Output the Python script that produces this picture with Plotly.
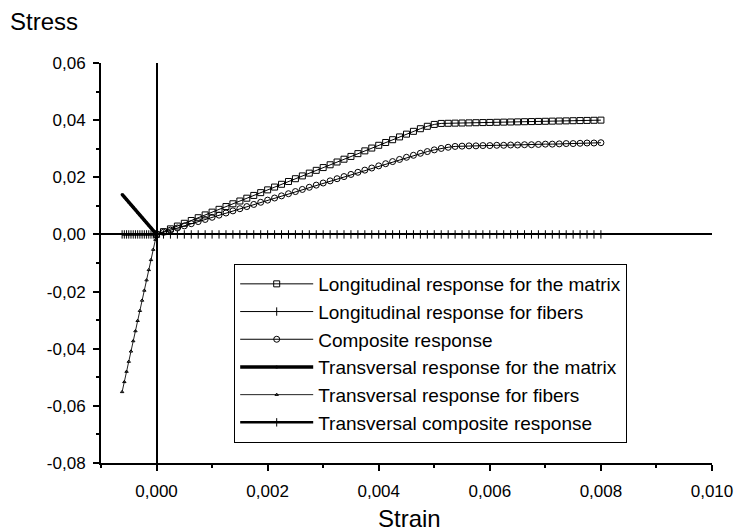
import plotly.graph_objects as go

# ---------------- data ----------------
strain_long = [0.0, 0.000125, 0.00025, 0.000375, 0.0005, 0.000625, 0.00075, 0.000875,
               0.001, 0.001125, 0.00125, 0.001375, 0.0015, 0.001625, 0.00175, 0.001875,
               0.002, 0.002125, 0.00225, 0.002375, 0.0025, 0.002625, 0.00275, 0.002875,
               0.003, 0.003125, 0.00325, 0.003375, 0.0035, 0.003625, 0.00375, 0.003875,
               0.004, 0.004125, 0.00425, 0.004375, 0.0045, 0.004625, 0.00475, 0.004875,
               0.005, 0.005125, 0.00525, 0.005375, 0.0055, 0.005625, 0.00575, 0.005875,
               0.006, 0.006125, 0.00625, 0.006375, 0.0065, 0.006625, 0.00675, 0.006875,
               0.007, 0.007125, 0.00725, 0.007375, 0.0075, 0.007625, 0.00775, 0.007875,
               0.008]

stress_long_matrix = [0.0, 0.00098, 0.00195, 0.00293, 0.0039, 0.00488, 0.00585, 0.00683,
                      0.0078, 0.00878, 0.00975, 0.01073, 0.0117, 0.01268, 0.01365, 0.01463,
                      0.0156, 0.01658, 0.01755, 0.01853, 0.0195, 0.02048, 0.02145, 0.02243,
                      0.0234, 0.02438, 0.02535, 0.02633, 0.0273, 0.02828, 0.02925, 0.03023,
                      0.0312, 0.03218, 0.03315, 0.03413, 0.0351, 0.03608, 0.037, 0.03785,
                      0.0385, 0.03885, 0.0389, 0.03895, 0.039, 0.03905, 0.0391, 0.03915,
                      0.0392, 0.03925, 0.0393, 0.03935, 0.0394, 0.03945, 0.0395, 0.03955,
                      0.0396, 0.03965, 0.0397, 0.03975, 0.0398, 0.03985, 0.0399, 0.03995,
                      0.0400]

stress_long_fibers = [0.0] * 65

stress_composite = [0.0, 0.00075, 0.0015, 0.00225, 0.003, 0.00375, 0.0045, 0.00525,
                    0.006, 0.00675, 0.0075, 0.00825, 0.009, 0.00975, 0.0105, 0.01125,
                    0.012, 0.01275, 0.0135, 0.01425, 0.015, 0.01575, 0.0165, 0.01725,
                    0.018, 0.01875, 0.0195, 0.02025, 0.021, 0.02175, 0.0225, 0.02325,
                    0.024, 0.02475, 0.0255, 0.02625, 0.027, 0.0277, 0.0284, 0.029,
                    0.0296, 0.0301, 0.0305, 0.0308, 0.0309, 0.031, 0.031, 0.0311,
                    0.0311, 0.0312, 0.0312, 0.0313, 0.0313, 0.0314, 0.0314, 0.0315,
                    0.0316, 0.0316, 0.0317, 0.0318, 0.0318, 0.0319, 0.032, 0.032,
                    0.0321]

strain_trans = [-0.00062, -0.00058, -0.00054, -0.0005, -0.00046, -0.00042, -0.00038, -0.00034,
                -0.0003, -0.00026, -0.00022, -0.00018, -0.00014, -0.0001, -0.00006, -0.00002, 0.0]

stress_trans_matrix = [0.014, 0.0131, 0.0122, 0.0113, 0.0104, 0.0095, 0.0086, 0.0077,
                       0.0068, 0.0059, 0.005, 0.0041, 0.0032, 0.0023, 0.0014, 0.0005, 0.0]

stress_trans_fibers = [-0.0551, -0.0516, -0.048, -0.0445, -0.0409, -0.0373, -0.0338, -0.0302,
                       -0.0267, -0.0231, -0.0196, -0.016, -0.0124, -0.0089, -0.0053, -0.0018, 0.0]

stress_trans_composite = [0.0] * 17

series_names = ["Longitudinal response for the matrix",
                "Longitudinal response for fibers",
                "Composite response",
                "Transversal response for the matrix",
                "Transversal response for fibers",
                "Transversal composite response"]

x_tickvals = [0.0, 0.002, 0.004, 0.006, 0.008, 0.010]
x_ticktext = ["0,000", "0,002", "0,004", "0,006", "0,008", "0,010"]
y_tickvals = [-0.08, -0.06, -0.04, -0.02, 0.0, 0.02, 0.04, 0.06]
y_ticktext = ["-0,08", "-0,06", "-0,04", "-0,02", "0,00", "0,02", "0,04", "0,06"]

# ---------------- figure ----------------
FONT = "Liberation Sans, Arial, sans-serif"
fig = go.Figure()

fig.add_trace(go.Scatter(x=strain_long, y=stress_long_matrix, name=series_names[0],
                         mode="lines+markers", line=dict(color="black", width=1),
                         marker=dict(symbol="square-open", size=6, color="black",
                                     line=dict(width=1, color="black"))))
fig.add_trace(go.Scatter(x=strain_long, y=stress_long_fibers, name=series_names[1],
                         mode="lines+markers", line=dict(color="black", width=1),
                         marker=dict(symbol="line-ns", size=6, color="black",
                                     line=dict(width=1, color="black"))))
fig.add_trace(go.Scatter(x=strain_long, y=stress_composite, name=series_names[2],
                         mode="lines+markers", line=dict(color="black", width=1),
                         marker=dict(symbol="circle-open", size=6, color="black",
                                     line=dict(width=1, color="black"))))
fig.add_trace(go.Scatter(x=strain_trans, y=stress_trans_matrix, name=series_names[3],
                         mode="lines+markers", line=dict(color="black", width=3.5),
                         marker=dict(symbol="circle", size=3, color="black")))
fig.add_trace(go.Scatter(x=strain_trans, y=stress_trans_fibers, name=series_names[4],
                         mode="lines+markers", line=dict(color="#222222", width=1),
                         marker=dict(symbol="triangle-up-open", size=3, color="black",
                                     line=dict(width=1, color="black"))))
fig.add_trace(go.Scatter(x=strain_trans, y=stress_trans_composite, name=series_names[5],
                         mode="lines+markers", line=dict(color="black", width=2.5),
                         marker=dict(symbol="line-ns", size=6, color="black",
                                     line=dict(width=1, color="black"))))

axis_common = dict(showline=True, linecolor="black", linewidth=2, ticks="outside",
                   ticklen=6, tickwidth=2, tickcolor="black", showgrid=False,
                   zeroline=True, zerolinecolor="black", zerolinewidth=1.5,
                   tickfont=dict(family=FONT, size=17, color="black"))

fig.update_xaxes(range=[-0.001, 0.010], tickmode="array", tickvals=x_tickvals,
                 ticktext=x_ticktext, ticklabelstandoff=6,
                 minor=dict(ticks="outside", ticklen=3, tickwidth=1.5, tickcolor="black",
                            tickmode="linear", tick0=0, dtick=0.001),
                 **axis_common)
fig.update_yaxes(range=[-0.08, 0.06], tickmode="array", tickvals=y_tickvals,
                 ticktext=y_ticktext, ticklabelstandoff=4,
                 minor=dict(ticks="outside", ticklen=3, tickwidth=1.5, tickcolor="black",
                            tickmode="linear", tick0=0, dtick=0.01),
                 **axis_common)

fig.add_annotation(text="Stress", xref="paper", yref="paper", x=-101 / 619 + 7 / 619,
                   y=1 + 57 / 400, xanchor="left", yanchor="top", showarrow=False,
                   font=dict(family=FONT, size=24, color="black"))
fig.add_annotation(text="Strain", xref="paper", yref="paper", x=0.505,
                   y=-55 / 400, xanchor="center", yanchor="middle", showarrow=False,
                   font=dict(family=FONT, size=24, color="black"))

fig.update_layout(
    width=745, height=532,
    margin=dict(l=101, r=25, t=63, b=69),
    paper_bgcolor="white", plot_bgcolor="white",
    font=dict(family=FONT, color="black"),
    showlegend=True,
    legend=dict(x=0.218, y=0.4975, xanchor="left", yanchor="top",
                bgcolor="white", bordercolor="black", borderwidth=1,
                font=dict(family=FONT, size=19, color="black"),
                itemwidth=73, tracegroupgap=0),
)

fig.write_html("out.html")
